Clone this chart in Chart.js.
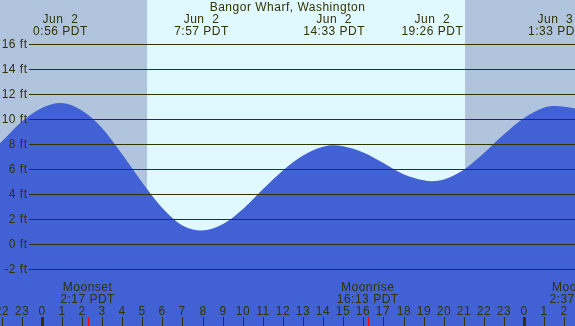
<!DOCTYPE html>
<html>
<head>
<meta charset="utf-8">
<script src="https://cdn.jsdelivr.net/npm/chart.js@4/dist/chart.umd.min.js"></script>
<style>
  body { margin: 0; background: #fff; }
  canvas { display: block; }
</style>
</head>
<body>
<canvas id="tide" width="575" height="326"></canvas>
<script>
// Tide height (ft), hours from midnight Jun 2 (PDT)
const tideHours = [-3, -2, -1, 0, 0.93, 2, 3, 4, 5, 6, 7, 7.95, 9, 10, 11, 12, 13, 14, 14.55, 15, 16, 17, 18, 19, 19.43, 20, 21, 22, 23, 24, 25, 25.55, 26, 27];
const tideFeet  = [6.8, 8.2, 9.8, 10.9, 11.3, 10.7, 9.3, 7.2, 4.95, 2.9, 1.5, 1.1, 1.6, 2.8, 4.4, 5.9, 7.1, 7.8, 7.92, 7.85, 7.35, 6.5, 5.6, 5.12, 5.05, 5.18, 5.97, 7.3, 8.8, 10.1, 10.94, 11.06, 11.0, 10.7];

// high / low labels along the top
const peakHours = [0.933, 7.95, 14.55, 19.433, 25.55];
const peakDays  = ['Jun  2', 'Jun  2', 'Jun  2', 'Jun  2', 'Jun  3'];
const peakTimes = ['0:56 PDT', '7:57 PDT', '14:33 PDT', '19:26 PDT', '1:33 PDT'];

// daylight
const sunrise = 5.24;
const sunset = 21.06;

// moon events
const moonNames = ['Moonset', 'Moonrise', 'Moonset'];
const moonTimes = ['2:17 PDT', '16:13 PDT', '2:37 PDT'];
const moonHours = [2.283, 16.217, 26.617];

const feetTicks = [-2, 0, 2, 4, 6, 8, 10, 12, 14, 16];
const hourTicks = [];
for (let h = -2; h <= 26; h++) hourTicks.push(h);

const title = 'Bangor Wharf, Washington';

const ink = '#333300';
const font = '12px "Liberation Sans", Arial, sans-serif';

const tidePlugin = {
    id: 'tideDecor',
    beforeDatasetsDraw(chart) {
        const ctx = chart.ctx;
        const x = chart.scales.x;
        const area = chart.chartArea;
        ctx.save();
        // night shading everywhere, daylight between sunrise and sunset
        ctx.fillStyle = '#b0c4de';
        ctx.fillRect(area.left, area.top, area.right - area.left, area.bottom - area.top);
        const x1 = x.getPixelForValue(sunrise);
        const x2 = x.getPixelForValue(sunset);
        ctx.fillStyle = '#e0f8ff';
        ctx.fillRect(x1, area.top, x2 - x1, area.bottom - area.top);
        ctx.restore();
    },
    afterDatasetsDraw(chart) {
        const ctx = chart.ctx;
        const x = chart.scales.x;
        const y = chart.scales.y;
        const area = chart.chartArea;
        ctx.save();
        ctx.font = font;
        ctx.letterSpacing = '0.5px';
        ctx.fillStyle = ink;
        ctx.strokeStyle = ink;
        ctx.lineWidth = 1;

        // horizontal feet lines + labels
        feetTicks.forEach(f => {
            const py = Math.floor(y.getPixelForValue(f)) + 0.5;
            ctx.beginPath();
            ctx.moveTo(29, py);
            ctx.lineTo(area.right, py);
            ctx.stroke();
            ctx.textAlign = 'right';
            ctx.textBaseline = 'middle';
            ctx.fillText(f + ' ft', 27.5, py);
        });

        // title
        ctx.textAlign = 'center';
        ctx.textBaseline = 'middle';
        ctx.fillText(title, (area.left + area.right) / 2, 8);

        // high / low times
        peakHours.forEach((h, i) => {
            const px = x.getPixelForValue(h);
            ctx.fillText(peakDays[i], px, 20);
            ctx.fillText(peakTimes[i], px, 32);
        });

        // hour ticks along the bottom
        hourTicks.forEach(h => {
            const px = Math.round(x.getPixelForValue(h));
            const lbl = ((h % 24) + 24) % 24;
            ctx.fillText(String(lbl), px, 311.5);
            if (lbl === 0) {
                ctx.fillRect(px - 1, 317, 3, 9);
            } else {
                ctx.fillRect(px, 317, 1, 9);
            }
        });

        // moon events
        moonHours.forEach((h, i) => {
            const px = x.getPixelForValue(h);
            ctx.fillStyle = ink;
            ctx.fillText(moonNames[i], px, 288);
            ctx.fillText(moonTimes[i], px, 299.5);
            ctx.fillStyle = '#ff0000';
            ctx.fillRect(Math.round(px), 317, 1, 9);
        });
        ctx.restore();
    }
};

new Chart(document.getElementById('tide'), {
    type: 'line',
    data: {
        datasets: [{
            data: tideHours.map((h, i) => ({ x: h, y: tideFeet[i] })),
            borderWidth: 0,
            borderColor: 'rgba(0,0,0,0)',
            backgroundColor: '#4161d5',
            fill: 'start',
            pointRadius: 0,
            cubicInterpolationMode: 'monotone'
        }]
    },
    options: {
        responsive: false,
        animation: false,
        layout: { padding: 0 },
        plugins: {
            legend: { display: false },
            tooltip: { enabled: false }
        },
        scales: {
            x: { type: 'linear', min: -2.075, max: 26.53, display: false },
            y: { min: -6.54, max: 19.54, display: false }
        }
    },
    plugins: [tidePlugin]
});
</script>
</body>
</html>
